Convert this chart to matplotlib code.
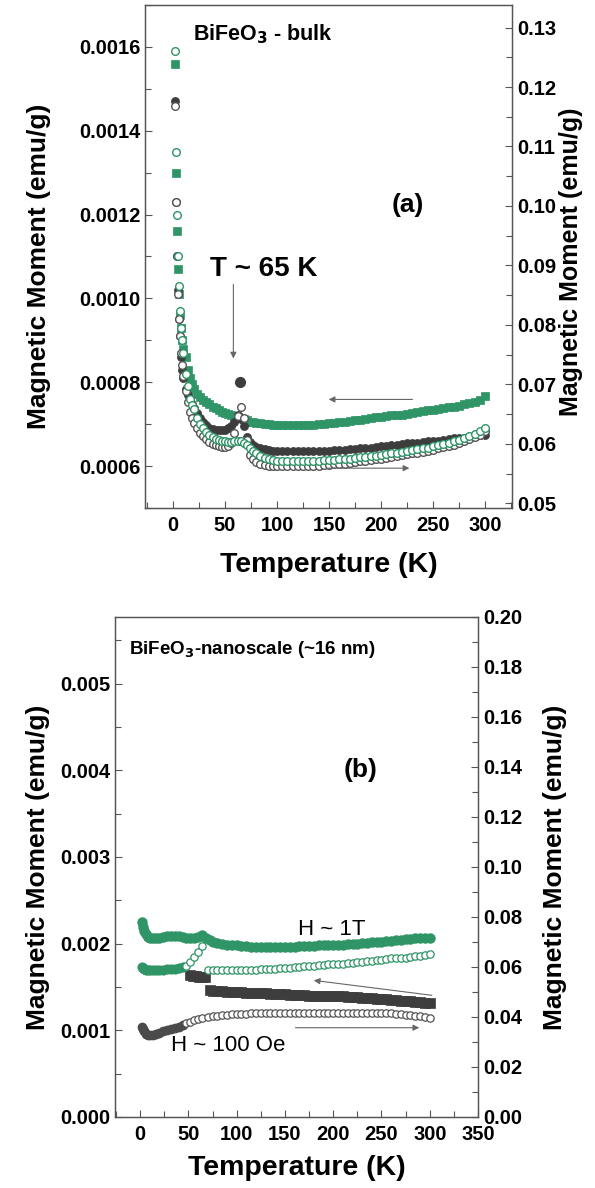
import matplotlib
matplotlib.use('Agg')
import matplotlib.pyplot as plt
from matplotlib.ticker import MultipleLocator, FormatStrFormatter

plt.rcParams['font.family'] = ['Liberation Sans', 'DejaVu Sans']
plt.rcParams['font.weight'] = 'bold'

# ---------------- panel (a): BiFeO3 bulk ----------------
T_a = [2, 3, 4, 5, 6, 7, 8, 9, 10, 12, 14, 16, 18, 20, 23, 26, 29, 32, 35, 38,
       41, 44, 47, 50, 53, 56, 59, 62, 65, 68, 71, 74, 77, 80, 84, 88, 92, 96, 100,
       105, 110, 115, 120, 125, 130, 135, 140, 145, 150, 155, 160, 165, 170, 175,
       180, 185, 190, 195, 200, 205, 210, 215, 220, 225, 230, 235, 240, 245, 250,
       255, 260, 265, 270, 275, 280, 285, 290, 295, 300]

green_sq = [0.00156, 0.00130, 0.00116, 0.00107, 0.00101, 0.00096, 0.00093, 0.00090, 0.00088,
            0.00086, 0.00083, 0.00081, 0.000795, 0.000785, 0.000772, 0.000764, 0.000757,
            0.000752, 0.000747, 0.000742, 0.000738, 0.000734, 0.000730, 0.000727, 0.000724,
            0.000722, 0.000720, 0.000718, 0.000715, 0.000712, 0.000709, 0.000706, 0.000704,
            0.000703, 0.000702, 0.000701, 0.000700, 0.000699, 0.000699,
            0.000698, 0.000698, 0.000697, 0.000697, 0.000698, 0.000698, 0.000699, 0.000700,
            0.000701, 0.000702, 0.000703, 0.000705, 0.000706, 0.000708, 0.000710, 0.000711,
            0.000713, 0.000715, 0.000717, 0.000718, 0.000720, 0.000721, 0.000722, 0.000723,
            0.000725, 0.000727, 0.000729, 0.000731, 0.000733, 0.000734, 0.000736, 0.000738,
            0.000740, 0.000742, 0.000744, 0.000747, 0.000750, 0.000753, 0.000758, 0.000766]

dark_fill = [0.00147, 0.00123, 0.00110, 0.00102, 0.00095, 0.00091, 0.00086, 0.00083, 0.00081,
             0.000785, 0.000770, 0.000760, 0.000748, 0.000738, 0.000726, 0.000714, 0.000705,
             0.000698, 0.000692, 0.000688, 0.000686, 0.000685, 0.000685, 0.000687, 0.000690,
             0.000695, 0.000704, 0.000722, 0.000712, 0.000695, 0.000670, 0.000657, 0.000650,
             0.000646, 0.000643, 0.000640, 0.000638, 0.000637, 0.000636,
             0.000636, 0.000635, 0.000635, 0.000635, 0.000635, 0.000635, 0.000636, 0.000636,
             0.000637, 0.000637, 0.000638, 0.000638, 0.000639, 0.000640, 0.000641, 0.000642,
             0.000643, 0.000644, 0.000645, 0.000647, 0.000648, 0.000650, 0.000651, 0.000653,
             0.000654, 0.000655, 0.000656, 0.000658, 0.000659, 0.000660, 0.000661, 0.000663,
             0.000664, 0.000666, 0.000667, 0.000668, 0.000670, 0.000671, 0.000673, 0.000675]

dark_open = [0.00146, 0.00123, 0.00110, 0.00101, 0.00095, 0.00091, 0.00087, 0.00084, 0.000814,
             0.000780, 0.000752, 0.000730, 0.000714, 0.000702, 0.000690, 0.000680, 0.000671,
             0.000664, 0.000658, 0.000653, 0.000650, 0.000647, 0.000646, 0.000646, 0.000648,
             0.000655, 0.000680, 0.000720, 0.000740, 0.000715, 0.000662, 0.000626, 0.000616,
             0.000610, 0.000606, 0.000603, 0.000601, 0.000600, 0.000600,
             0.000600, 0.000600, 0.000600, 0.000600, 0.000600, 0.000600, 0.000601, 0.000601,
             0.000602, 0.000603, 0.000604, 0.000605, 0.000606, 0.000608, 0.000609, 0.000611,
             0.000612, 0.000614, 0.000616, 0.000618, 0.000620, 0.000622, 0.000624, 0.000626,
             0.000628, 0.000630, 0.000632, 0.000634, 0.000637, 0.000639, 0.000642, 0.000645,
             0.000648, 0.000651, 0.000655, 0.000659, 0.000664, 0.000669, 0.000675, 0.000683]

green_open = [0.00159, 0.00135, 0.00120, 0.00110, 0.00103, 0.00097, 0.00093, 0.00090, 0.00087,
              0.00082, 0.00079, 0.00076, 0.000745, 0.000735, 0.000715, 0.000700, 0.000690,
              0.000682, 0.000675, 0.000669, 0.000665, 0.000662, 0.000660, 0.000659, 0.000658,
              0.000658, 0.000659, 0.000660, 0.000660, 0.000656, 0.000650, 0.000644, 0.000637,
              0.000631, 0.000625, 0.000620, 0.000617, 0.000614, 0.000613,
              0.000612, 0.000612, 0.000612, 0.000612, 0.000612, 0.000612, 0.000613, 0.000613,
              0.000614, 0.000614, 0.000615, 0.000616, 0.000617, 0.000618, 0.000619, 0.000621,
              0.000622, 0.000623, 0.000625, 0.000626, 0.000628, 0.000630, 0.000632, 0.000634,
              0.000636, 0.000638, 0.000640, 0.000642, 0.000644, 0.000647, 0.000650, 0.000653,
              0.000656, 0.000659, 0.000663, 0.000667, 0.000672, 0.000677, 0.000683, 0.000690]

# stray point at the transition
spike_T = [64]
spike_M = [0.00080]

# ---------------- panel (b): BiFeO3 nanoscale ----------------
T_up = [2, 3, 4, 6, 8, 10, 13, 16, 20, 24, 28, 32, 36, 40, 44, 48, 52, 56, 60, 64, 68,
        72, 76, 80, 85, 90, 95, 100, 105, 110, 115, 120, 125, 130, 135, 140, 145, 150,
        155, 160, 165, 170, 175, 180, 185, 190, 195, 200, 205, 210, 215, 220, 225, 230,
        235, 240, 245, 250, 255, 260, 265, 270, 275, 280, 285, 290, 295, 300]
m_1T_fc = [0.00225, 0.00219, 0.00215, 0.00211, 0.00208, 0.00207, 0.00206, 0.00206, 0.00207,
           0.00208, 0.00209, 0.00209, 0.00209, 0.00209, 0.00208, 0.00207, 0.00207, 0.00207,
           0.00208, 0.00210, 0.00207, 0.00204, 0.00202, 0.00201, 0.00200, 0.00199, 0.00198,
           0.00198, 0.00197, 0.00197, 0.00196, 0.00196, 0.00196, 0.00196, 0.00196, 0.00196,
           0.00196, 0.00196, 0.00196, 0.00196, 0.00197, 0.00197, 0.00197, 0.00197, 0.00198,
           0.00198, 0.00198, 0.00199, 0.00199, 0.00199, 0.00200, 0.00200, 0.00200, 0.00201,
           0.00201, 0.00202, 0.00202, 0.00202, 0.00203, 0.00203, 0.00204, 0.00204, 0.00205,
           0.00205, 0.00206, 0.00206, 0.00207, 0.00207]

T_low = [2, 3, 4, 6, 8, 10, 13, 16, 20, 24, 28, 32, 36, 40, 44]
m_1T_low = [0.00173, 0.00172, 0.00171, 0.00170, 0.00170, 0.00170, 0.00170, 0.00170, 0.00170,
            0.00170, 0.00171, 0.00171, 0.00171, 0.00172, 0.00173]
m_100Oe_low = [0.00104, 0.00101, 0.00099, 0.00096, 0.00095, 0.00095, 0.00095, 0.00096, 0.00097,
               0.00099, 0.00100, 0.00101, 0.00103, 0.00104, 0.00106]

T_zfc = [48, 52, 56, 60, 64, 70, 75, 80, 85, 90, 95, 100, 105, 110, 115, 120, 125, 130, 135,
         140, 145, 150, 155, 160, 165, 170, 175, 180, 185, 190, 195, 200, 205, 210, 215, 220,
         225, 230, 235, 240, 245, 250, 255, 260, 265, 270, 275, 280, 285, 290, 295, 300]
m_1T_zfc = [0.00174, 0.00179, 0.00185, 0.00190, 0.00197, 0.00170, 0.00170, 0.00170, 0.00170,
            0.00170, 0.00170, 0.00170, 0.00170, 0.00170, 0.00170, 0.00170, 0.00171, 0.00171,
            0.00171, 0.00171, 0.00172, 0.00172, 0.00172, 0.00173, 0.00173, 0.00174, 0.00174,
            0.00174, 0.00175, 0.00175, 0.00176, 0.00176, 0.00177, 0.00177, 0.00178, 0.00178,
            0.00179, 0.00179, 0.00180, 0.00180, 0.00181, 0.00181, 0.00182, 0.00183, 0.00183,
            0.00184, 0.00184, 0.00185, 0.00186, 0.00186, 0.00187, 0.00188]
m_100Oe_zfc = [0.00108, 0.00110, 0.00112, 0.00113, 0.00114, 0.00115, 0.00116, 0.00117, 0.00118,
               0.00118, 0.00119, 0.00119, 0.00119, 0.00119, 0.00120, 0.00120, 0.00120, 0.00120,
               0.00120, 0.00120, 0.00120, 0.00120, 0.00120, 0.00120, 0.00120, 0.00120, 0.00120,
               0.00120, 0.00120, 0.00120, 0.00120, 0.00120, 0.00120, 0.00120, 0.00120, 0.00120,
               0.00120, 0.00120, 0.00120, 0.00120, 0.00120, 0.00120, 0.00120, 0.00120, 0.00119,
               0.00119, 0.00118, 0.00118, 0.00117, 0.00116, 0.00115, 0.00114]

T_sq = [52, 55, 58, 61, 64, 67, 72, 75, 80, 85, 90, 95, 100, 105, 110, 115, 120, 125, 130,
        135, 140, 145, 150, 155, 160, 165, 170, 175, 180, 185, 190, 195, 200, 205, 210, 215,
        220, 225, 230, 235, 240, 245, 250, 255, 260, 265, 270, 275, 280, 285, 290, 295, 300]
m_100Oe_fc = [0.00164, 0.00163, 0.00163, 0.00162, 0.00162, 0.00161, 0.00146, 0.00145, 0.00145,
              0.00145, 0.00144, 0.00144, 0.00144, 0.00144, 0.00143, 0.00143, 0.00143, 0.00143,
              0.00143, 0.00142, 0.00142, 0.00142, 0.00142, 0.00141, 0.00141, 0.00141, 0.00141,
              0.00140, 0.00140, 0.00140, 0.00140, 0.00139, 0.00139, 0.00139, 0.00139, 0.00138,
              0.00138, 0.00138, 0.00137, 0.00137, 0.00137, 0.00136, 0.00136, 0.00136, 0.00135,
              0.00135, 0.00134, 0.00134, 0.00134, 0.00133, 0.00133, 0.00132, 0.00132]

GREEN = '#2f9466'
DARK = '#3d3d3d'
GRAY_EDGE = '#555555'
AXC = '#555555'

fig = plt.figure(figsize=(5.95, 11.88), dpi=100)


def style_axes(ax, ax2):
    for a in (ax, ax2):
        for s in a.spines.values():
            s.set_color(AXC)
            s.set_linewidth(0.9)
    ax.tick_params(axis='both', which='both', direction='in', colors=AXC,
                   labelcolor='black', labelsize=14.5, top=False, right=False)
    ax.tick_params(which='major', length=5, width=0.8)
    ax.tick_params(which='minor', length=4, width=0.8)
    ax.tick_params(axis='x', pad=6)
    ax2.tick_params(axis='y', which='both', direction='in', colors=AXC,
                    labelcolor='black', labelsize=14.5)
    ax2.tick_params(which='major', length=5, width=0.8)
    ax2.tick_params(which='minor', length=4, width=0.8)
    for lab in ax.get_xticklabels() + ax.get_yticklabels() + ax2.get_yticklabels():
        lab.set_fontweight('bold')


# ---------- (a) ----------
ax = fig.add_axes([0.2437, 0.5724, 0.6168, 0.4234])
ax2 = ax.twinx()
ax.plot(T_a, green_sq, 's', color=GREEN, ms=5.3, mec=GREEN, mew=0.5)
ax.plot(T_a, dark_fill, 'o', color=DARK, ms=5.8, mec=DARK, mew=0.5)
ax.plot(spike_T, spike_M, 'o', color=DARK, ms=7, mec=DARK)
ax.plot(T_a, dark_open, 'o', mfc='white', mec=GRAY_EDGE, ms=5.5, mew=1.0)
ax.plot(T_a, green_open, 'o', mfc='white', mec=GREEN, ms=5.5, mew=1.0)

ax.set_xlim(-27, 326)
ax.set_ylim(0.0005, 0.0017)
ax2.set_ylim(0.0492, 0.1338)
ax.xaxis.set_major_locator(MultipleLocator(50))
ax.xaxis.set_minor_locator(MultipleLocator(25))
ax.yaxis.set_major_locator(MultipleLocator(0.0002))
ax.yaxis.set_minor_locator(MultipleLocator(0.0001))
ax.yaxis.set_major_formatter(FormatStrFormatter('%.4f'))
ax2.yaxis.set_major_locator(MultipleLocator(0.01))
ax2.yaxis.set_minor_locator(MultipleLocator(0.005))
ax2.yaxis.set_major_formatter(FormatStrFormatter('%.2f'))
ax.set_yticks([0.0006, 0.0008, 0.0010, 0.0012, 0.0014, 0.0016])
style_axes(ax, ax2)

ax.set_xlabel('Temperature (K)', fontsize=20.5, fontweight='bold', labelpad=12)
ax.set_ylabel('Magnetic Moment (emu/g)', fontsize=19, fontweight='bold')
ax.yaxis.set_label_coords(-0.255, 0.48)
ax2.set_ylabel('Magnetic Moment (emu/g)', fontsize=18, fontweight='bold')
ax2.yaxis.set_label_coords(1.127, 0.49)

ax.text(19, 0.00163, r'BiFeO$_3$ - bulk', fontsize=15.5, fontweight='bold', va='center')
ax.text(226, 0.001224, '(a)', fontsize=19, fontweight='bold', ha='center', va='center')
ax.text(87, 0.00107, 'T ~ 65 K', fontsize=20, fontweight='bold', ha='center', va='center')
arr = dict(arrowstyle='-|>', color='#666666', lw=0.8, mutation_scale=9)
ax.annotate('', xy=(58, 0.00085), xytext=(58, 0.00104), arrowprops=arr)
ax.annotate('', xy=(147, 0.000759), xytext=(233, 0.000759), arrowprops=arr)
ax.annotate('', xy=(230, 0.000595), xytext=(145, 0.000595), arrowprops=arr)

# ---------- (b) ----------
bx = fig.add_axes([0.1933, 0.0598, 0.6101, 0.4209])
bx2 = bx.twinx()
bx.plot(T_sq, m_100Oe_fc, 's', color=DARK, mec=DARK, ms=6.5, mew=0.5)
bx.plot(T_low, m_100Oe_low, 'o', color='#4a4a4a', mec='#4a4a4a', ms=6)
bx.plot(T_zfc, m_100Oe_zfc, 'o', mfc='white', mec=GRAY_EDGE, ms=5.3, mew=0.9)
bx.plot(T_low, m_1T_low, 'o', color=GREEN, mec=GREEN, ms=6.3)
bx.plot(T_zfc, m_1T_zfc, 'o', mfc='white', mec=GREEN, ms=5.3, mew=0.9)
bx.plot(T_up, m_1T_fc, 'o', color=GREEN, mec=GREEN, ms=6.5)

bx.set_xlim(-26, 350)
bx.set_ylim(0, 0.00577)
bx2.set_ylim(0, 0.2)
bx.xaxis.set_major_locator(MultipleLocator(50))
bx.xaxis.set_minor_locator(MultipleLocator(25))
bx.yaxis.set_major_locator(MultipleLocator(0.001))
bx.yaxis.set_minor_locator(MultipleLocator(0.0005))
bx.yaxis.set_major_formatter(FormatStrFormatter('%.3f'))
bx2.yaxis.set_major_locator(MultipleLocator(0.02))
bx2.yaxis.set_minor_locator(MultipleLocator(0.01))
bx2.yaxis.set_major_formatter(FormatStrFormatter('%.2f'))
style_axes(bx, bx2)

bx.set_xlabel('Temperature (K)', fontsize=20.5, fontweight='bold', labelpad=8)
bx.set_ylabel('Magnetic Moment (emu/g)', fontsize=19, fontweight='bold')
bx.yaxis.set_label_coords(-0.179, 0.5)
bx2.set_ylabel('Magnetic Moment (emu/g)', fontsize=19, fontweight='bold')
bx2.yaxis.set_label_coords(1.18, 0.5)

bx.text(-12, 0.00539, r'BiFeO$_3$-nanoscale (~16 nm)', fontsize=13.5, fontweight='bold', va='center')
bx.text(228, 0.0040, '(b)', fontsize=19, fontweight='bold', ha='center', va='center')
bx.text(199, 0.00216, 'H ~ 1T', fontsize=16, fontweight='normal', ha='center', va='center')
bx.text(91, 0.00083, 'H ~ 100 Oe', fontsize=16, fontweight='normal', ha='center', va='center')
bx.annotate('', xy=(177, 0.00158), xytext=(305, 0.00140), arrowprops=arr)
bx.annotate('', xy=(292, 0.00103), xytext=(158, 0.00103), arrowprops=arr)

fig.savefig('out.png', dpi=100)
